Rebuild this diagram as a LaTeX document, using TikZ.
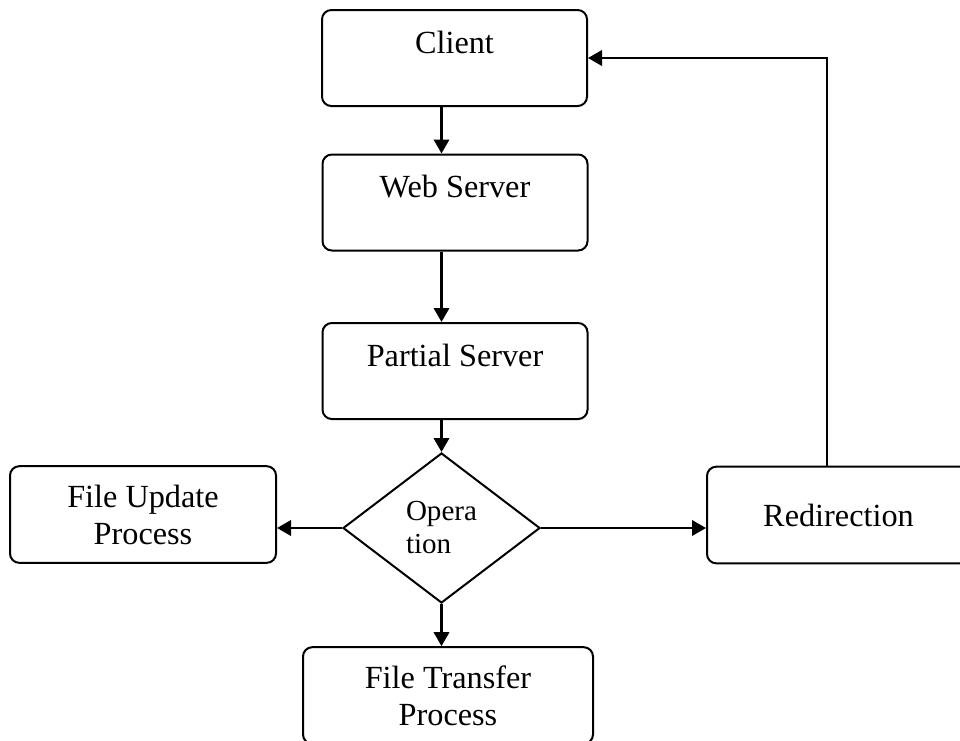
\documentclass[tikz,border=0pt]{standalone}
\usepackage{fontspec}
\setmainfont{Liberation Serif}
\usepackage{tikz}
\usetikzlibrary{arrows.meta, shapes.geometric, calc}

\begin{document}
\begin{tikzpicture}[
  x=0.75pt, y=-0.75pt,
  topbox/.style={rectangle, draw, line width=1.5pt, rounded corners=7pt, inner ysep=0pt,
    minimum width=198.75pt, text height=32.25pt, text depth=39.75pt,
    font=\fontsize{24.2pt}{27.75pt}\selectfont},
  procbox/.style={rectangle, draw, line width=1.5pt, rounded corners=7pt, align=center,
    minimum height=72.5pt, font=\fontsize{24.2pt}{27.75pt}\selectfont},
  decision/.style={diamond, draw, line width=1.5pt, inner sep=0pt, align=left,
    minimum width=147.75pt, minimum height=112.5pt,
    font=\fontsize{21.8pt}{24.75pt}\selectfont},
  arr/.style={-{Triangle[length=10.5pt, width=11.5pt]}, line width=1.9pt}
]
\useasboundingbox (0,0) rectangle (960,740);
\clip (0,0) rectangle (960,740);

\node[topbox] (client)  at (454.5,58)  {Client};
\node[topbox] (web)     at (455,202.5) {Web Server};
\node[topbox] (partial) at (455,371)   {Partial Server};
\node[decision] (op)    at (441.5,528) {Opera\\tion};
\node[procbox, minimum width=199.5pt]  (update)   at (143,514.5)   {File Update\\Process};
\node[procbox, minimum width=197.25pt] (redir)    at (838.5,515)   {Redirection};
\node[procbox, minimum width=217.5pt]  (transfer) at (448,695.5)   {File Transfer\\Process};

\draw[arr] (client.south -| op.north) -- (web.north -| op.north);
\draw[arr] (web.south -| op.north) -- (partial.north -| op.north);
\draw[arr] (partial.south -| op.north) -- (op.north);
\draw[arr] (op.south) -- (transfer.north -| op.south);
\draw[arr] (op.west) -- (update.east |- op.west);
\draw[arr] (op.east) -- (redir.west |- op.east);
\draw[arr] ([xshift=-8.6pt]redir.north) |- (client.east);
\end{tikzpicture}
\end{document}
